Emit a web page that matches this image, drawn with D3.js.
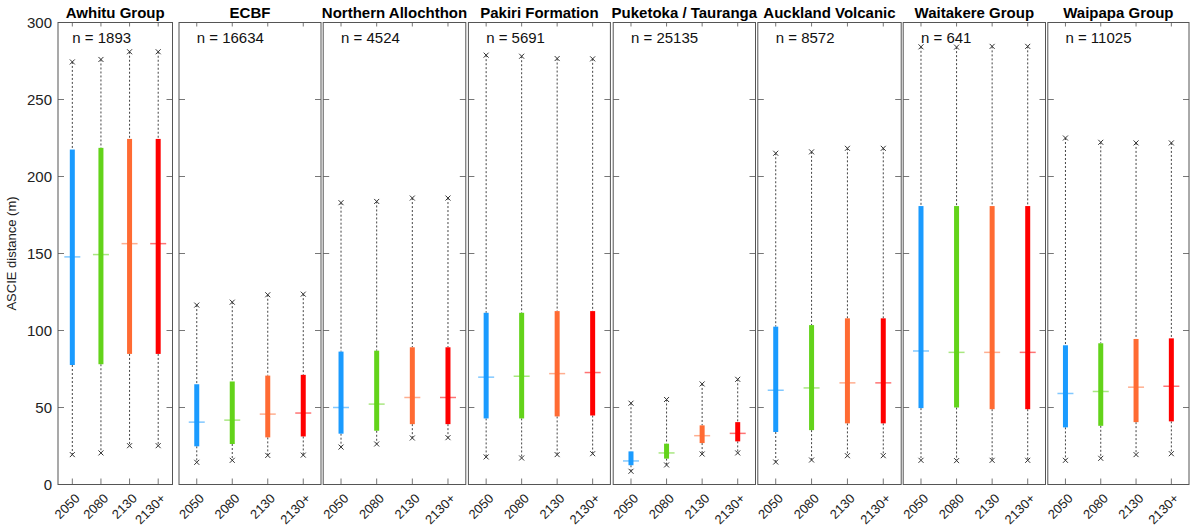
<!DOCTYPE html>
<html>
<head>
<meta charset="utf-8">
<script src="https://cdn.jsdelivr.net/npm/d3@7"></script>
<style>
body { margin: 0; background: #fff; }
svg { display: block; font-family: "Liberation Sans", Arial, sans-serif; }
</style>
</head>
<body>
<script>
// geologic groups and periods
var groups = ["Awhitu Group", "ECBF", "Northern Allochthon", "Pakiri Formation",
  "Puketoka / Tauranga", "Auckland Volcanic", "Waitakere Group", "Waipapa Group"];
var nCounts = [1893, 16634, 4524, 5691, 25135, 8572, 641, 11025];
var periods = ["2050", "2080", "2130", "2130+"];
var yTicks = [0, 50, 100, 150, 200, 250, 300];

// per group, per period
var whiskerLow = [
  [19.4, 20.5, 25.2, 25.2],
  [14.4, 15.7, 18.9, 19.1],
  [24.3, 26.3, 30.2, 30.4],
  [17.9, 17.2, 19.4, 20.0],
  [8.6, 12.7, 19.8, 20.5],
  [14.6, 15.9, 18.7, 18.7],
  [15.7, 15.5, 15.7, 15.7],
  [15.7, 17.0, 19.4, 20.0]
];
var q1 = [
  [77.6, 78.1, 84.8, 84.8],
  [24.8, 26.3, 30.6, 31.2],
  [33.0, 34.9, 39.2, 39.2],
  [42.9, 42.9, 44.2, 44.8],
  [12.5, 16.8, 26.9, 28.0],
  [34.1, 35.3, 39.7, 39.7],
  [49.6, 50.0, 48.9, 48.9],
  [37.1, 38.1, 40.5, 41.0]
];
var medians = [
  [147.8, 149.3, 156.4, 156.4],
  [40.5, 41.8, 45.7, 46.4],
  [50.0, 52.2, 56.5, 56.5],
  [69.7, 70.3, 72.0, 72.7],
  [15.3, 20.5, 31.7, 33.2],
  [61.2, 62.7, 66.0, 66.0],
  [86.7, 85.8, 85.8, 85.8],
  [59.1, 60.4, 63.2, 63.8]
];
var q3 = [
  [217.5, 218.6, 224.4, 224.4],
  [65.1, 66.9, 70.7, 71.2],
  [86.3, 86.9, 89.1, 89.1],
  [111.5, 111.5, 112.6, 112.6],
  [21.5, 26.5, 38.4, 40.5],
  [102.5, 103.5, 107.9, 107.9],
  [180.8, 180.8, 180.8, 180.8],
  [90.4, 91.7, 94.5, 94.9]
];
var whiskerHigh = [
  [274.4, 276.0, 281.0, 281.0],
  [116.5, 118.4, 123.2, 123.6],
  [183.0, 183.8, 186.0, 186.0],
  [278.8, 278.1, 276.6, 276.4],
  [52.8, 55.2, 65.3, 68.3],
  [215.1, 216.0, 218.3, 218.3],
  [284.2, 284.0, 284.5, 284.5],
  [225.0, 222.2, 221.8, 221.8]
];

var colors = ["#1a9bff", "#63d31a", "#ff6b33", "#ff0000"];

// panel extents in px
var panelX = [[58, 172.5], [179, 321], [323.2, 465.8], [468.4, 610.4],
  [613.2, 755.5], [757.8, 901.2], [903.2, 1045.5], [1047.8, 1189]];

var width = 1190, height = 526;

var svg = d3.select("body").append("svg")
  .attr("width", width)
  .attr("height", height);

var y = d3.scaleLinear().domain([0, 300]).range([484.5, 22.5]);

var tickColor = "#777";

groups.forEach(function(name, gi) {
  var x = d3.scalePoint()
    .domain(periods)
    .range(panelX[gi])
    .padding(0.5);

  var g = svg.append("g").attr("class", "panel");
  var x0 = panelX[gi][0], x1 = panelX[gi][1];

  // y ticks inside, both sides
  yTicks.forEach(function(t) {
    if (t == 0 || t == 300) return;
    g.append("line").attr("x1", x0).attr("x2", x0 + 6).attr("y1", y(t)).attr("y2", y(t))
      .attr("stroke", tickColor);
    g.append("line").attr("x1", x1 - 6).attr("x2", x1).attr("y1", y(t)).attr("y2", y(t))
      .attr("stroke", tickColor);
  });

  // x ticks top and bottom
  periods.forEach(function(p) {
    g.append("line").attr("x1", x(p)).attr("x2", x(p)).attr("y1", y(0)).attr("y2", y(0) - 6)
      .attr("stroke", tickColor);
    g.append("line").attr("x1", x(p)).attr("x2", x(p)).attr("y1", y(300)).attr("y2", y(300) + 4)
      .attr("stroke", tickColor);
  });

  var rows = periods.map(function(p, i) {
    return { p: p, c: colors[i], lo: whiskerLow[gi][i], q1: q1[gi][i],
      med: medians[gi][i], q3: q3[gi][i], hi: whiskerHigh[gi][i] };
  });

  var box = g.selectAll(".box")
    .data(rows)
    .enter().append("g")
    .attr("class", "box");

  // whiskers
  box.append("line")
    .attr("x1", function(d) { return x(d.p); })
    .attr("x2", function(d) { return x(d.p); })
    .attr("y1", function(d) { return y(d.hi); })
    .attr("y2", function(d) { return y(d.q3); })
    .attr("stroke", "#444")
    .attr("stroke-dasharray", "2,2");
  box.append("line")
    .attr("x1", function(d) { return x(d.p); })
    .attr("x2", function(d) { return x(d.p); })
    .attr("y1", function(d) { return y(d.q1); })
    .attr("y2", function(d) { return y(d.lo); })
    .attr("stroke", "#444")
    .attr("stroke-dasharray", "2,2");

  // x markers at whisker ends
  ["lo", "hi"].forEach(function(k) {
    box.append("path")
      .attr("d", function(d) {
        var cx = x(d.p), cy = y(d[k]), s = 2.5;
        return "M" + (cx - s) + "," + (cy - s) + "L" + (cx + s) + "," + (cy + s) +
          "M" + (cx - s) + "," + (cy + s) + "L" + (cx + s) + "," + (cy - s);
      })
      .attr("stroke", "#333")
      .attr("fill", "none");
  });

  // boxes
  box.append("rect")
    .attr("x", function(d) { return x(d.p) - 2.5; })
    .attr("width", 5)
    .attr("y", function(d) { return y(d.q3); })
    .attr("height", function(d) { return y(d.q1) - y(d.q3); })
    .attr("fill", function(d) { return d.c; });

  // medians
  box.append("line")
    .attr("x1", function(d) { return x(d.p) - 8; })
    .attr("x2", function(d) { return x(d.p) + 8; })
    .attr("y1", function(d) { return y(d.med); })
    .attr("y2", function(d) { return y(d.med); })
    .attr("stroke", function(d) { return d.c; })
    .attr("stroke-opacity", 0.55)
    .attr("stroke-width", 1.5);

  // frame
  g.append("rect")
    .attr("x", x0).attr("y", y(300))
    .attr("width", x1 - x0).attr("height", y(0) - y(300))
    .attr("fill", "none")
    .attr("stroke", "#555");

  // title + n
  g.append("text")
    .attr("x", (x0 + x1) / 2)
    .attr("y", 18)
    .attr("text-anchor", "middle")
    .style("font-size", "15px")
    .style("font-weight", "bold")
    .text(name);

  g.append("text")
    .attr("x", x(periods[0]))
    .attr("y", y(290))
    .attr("dy", "0.35em")
    .style("font-size", "15px")
    .attr("fill", "#111")
    .text("n = " + nCounts[gi]);

  // x tick labels rotated
  periods.forEach(function(p) {
    g.append("text")
      .attr("transform", "translate(" + (x(p) + 5) + ",496) rotate(-45)")
      .attr("text-anchor", "end")
      .attr("dy", "0.35em")
      .style("font-size", "13px")
      .attr("fill", "#222")
      .text(p);
  });
});

// y tick labels on first panel
svg.append("g").selectAll("text")
  .data(yTicks)
  .enter().append("text")
  .attr("x", 52)
  .attr("y", function(d) { return y(d); })
  .attr("dy", "0.35em")
  .attr("text-anchor", "end")
  .style("font-size", "15px")
  .attr("fill", "#222")
  .text(function(d) { return d; });

svg.append("text")
  .attr("transform", "translate(16," + y(150) + ") rotate(-90)")
  .attr("text-anchor", "middle")
  .style("font-size", "13px")
  .attr("fill", "#222")
  .text("ASCIE distance (m)");
</script>
</body>
</html>
